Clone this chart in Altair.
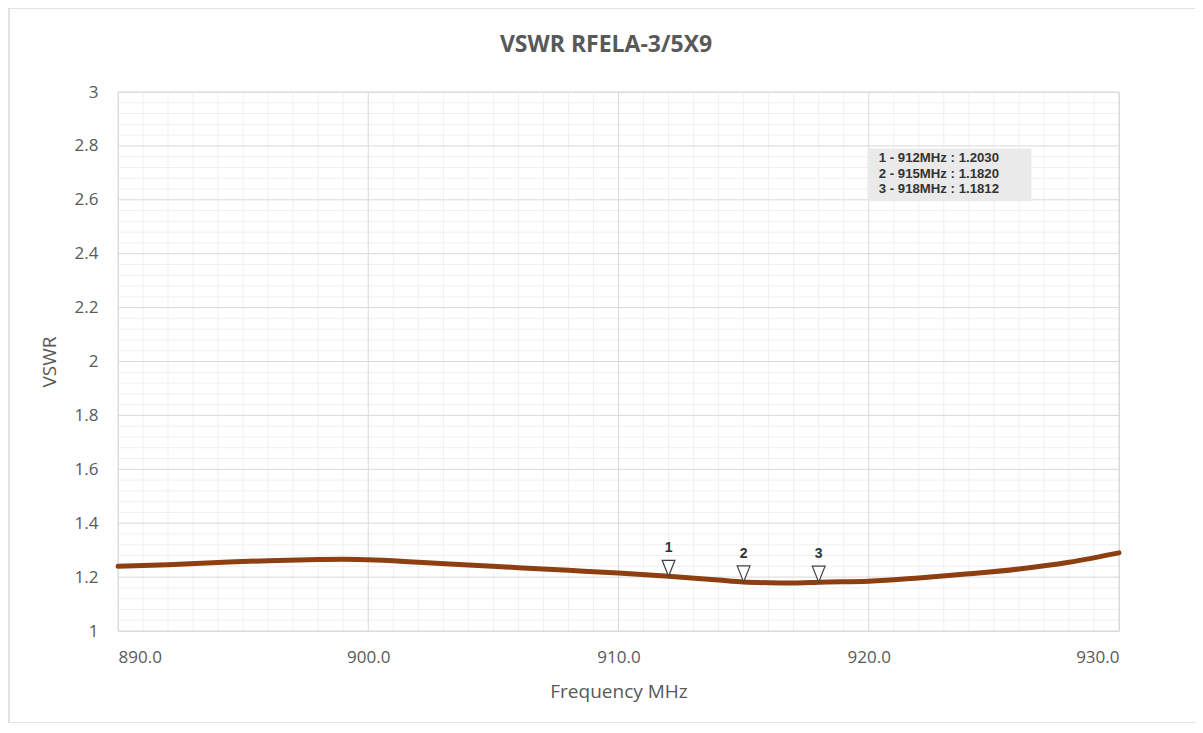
import altair as alt
import pandas as pd

# ---- data ----
freq = [890, 892, 894, 896, 898, 899, 900, 902, 904, 906, 908, 910,
        912, 914, 915, 916, 917, 918, 920, 922, 924, 926, 928, 930]
vswr = [1.240, 1.246, 1.254, 1.261, 1.265, 1.266, 1.264, 1.255, 1.245, 1.235, 1.225, 1.215,
        1.203, 1.189, 1.182, 1.179, 1.178, 1.1812, 1.185, 1.197, 1.212, 1.230, 1.255, 1.290]

marker_ids = ["1", "2", "3"]
marker_freq = [912, 915, 918]
marker_vswr = [1.2030, 1.1820, 1.1812]
marker_text = ["1 - 912MHz : 1.2030", "2 - 915MHz : 1.1820", "3 - 918MHz : 1.1812"]

title_text = "VSWR RFELA-3/5X9"

x_major = [890, 900, 910, 920, 930]
y_major = [1.0, 1.2, 1.4, 1.6, 1.8, 2.0, 2.2, 2.4, 2.6, 2.8, 3.0]
x_minor = [v for v in range(890, 931) if v % 10 != 0]
y_minor = [round(1 + i * 0.04, 2) for i in range(51) if i % 5 != 0]

FONT = "Open Sans"
GREY = "#595959"
W, H = 1001, 539

xs = alt.Scale(domain=[890, 930], nice=False)
ys = alt.Scale(domain=[1, 3], nice=False)

curve_df = pd.DataFrame({"f": freq, "v": vswr})
mk_df = pd.DataFrame({"id": marker_ids, "f": marker_freq, "v": marker_vswr})
txt_df = pd.DataFrame({"t": marker_text, "row": [0, 1, 2]})
one = pd.DataFrame({"a": [0]})

minor_x = alt.Chart(pd.DataFrame({"f": x_minor})).mark_rule(
    color="#F0F0F0", strokeWidth=1).encode(x=alt.X("f:Q", scale=xs))
minor_y = alt.Chart(pd.DataFrame({"v": y_minor})).mark_rule(
    color="#F0F0F0", strokeWidth=1).encode(y=alt.Y("v:Q", scale=ys))

major_x = alt.Chart(pd.DataFrame({"f": x_major})).mark_rule(
    color="#D9D9D9", strokeWidth=1).encode(x=alt.X("f:Q", scale=xs))
major_y = alt.Chart(pd.DataFrame({"v": y_major})).mark_rule(
    color="#D9D9D9", strokeWidth=1).encode(y=alt.Y("v:Q", scale=ys))

line = alt.Chart(curve_df).mark_line(
    color="#8E3F12", strokeWidth=5, interpolate="monotone", strokeCap="round"
).encode(
    x=alt.X("f:Q", scale=xs,
            axis=alt.Axis(values=x_major, format=".1f", title="Frequency MHz",
                          grid=False, ticks=False, domain=False,
                          labelFont=FONT, labelFontSize=17, labelColor=GREY,
                          labelPadding=18,
                          titleFont=FONT, titleFontSize=19, titleColor=GREY,
                          titleFontWeight="normal", titlePadding=17)),
    y=alt.Y("v:Q", scale=ys,
            axis=alt.Axis(values=y_major, format=".1~f", title="VSWR",
                          grid=False, ticks=False, domain=False,
                          labelFont=FONT, labelFontSize=17, labelColor=GREY,
                          labelPadding=20,
                          titleFont=FONT, titleFontSize=19, titleColor=GREY,
                          titleFontWeight="normal", titlePadding=15)),
)

tri = alt.Chart(mk_df).mark_point(
    shape="M-0.8,-1L0.8,-1L0,1Z", size=256, filled=True, fill="white",
    stroke="#404040", strokeWidth=1.2, yOffset=-8, opacity=1
).encode(x=alt.X("f:Q", scale=xs), y=alt.Y("v:Q", scale=ys))

ids = alt.Chart(mk_df).mark_text(
    font="Liberation Sans", fontSize=14, fontWeight="bold", color="#333333",
    yOffset=-28
).encode(x=alt.X("f:Q", scale=xs), y=alt.Y("v:Q", scale=ys), text="id:N")

# annotation box (data-space anchor of the label panel)
BOX_X0, BOX_X1, BOX_Y0, BOX_Y1 = 919.95, 926.5, 2.595, 2.79
box = alt.Chart(one).mark_rect(color="#EAEAEA").encode(
    x=alt.datum(BOX_X0, scale=xs), x2=alt.datum(BOX_X1),
    y=alt.datum(BOX_Y0, scale=ys), y2=alt.datum(BOX_Y1))

labels = alt.Chart(txt_df).transform_calculate(
    yy="2.755 - datum.row * 0.0575"
).mark_text(
    font="Liberation Sans", fontSize=13.2, fontWeight="bold", color="#333333",
    align="left", baseline="middle"
).encode(x=alt.datum(920.4, scale=xs), y=alt.Y("yy:Q", scale=ys), text="t:N")

# outer chart-area border (top, left, bottom; right edge runs off the page)
frame = alt.Chart(one).mark_rect(
    fillOpacity=0, stroke="#D9D9D9", strokeWidth=1.5, clip=False
).encode(x=alt.value(-109), x2=alt.value(1090), y=alt.value(-84), y2=alt.value(631))

title = alt.Chart(one).mark_text(
    font=FONT, fontSize=23, fontWeight="bold", color=GREY,
    align="center", baseline="middle", clip=False
).encode(x=alt.value(488), y=alt.value(-47), text=alt.value(title_text))

chart = alt.layer(
    minor_x, minor_y, major_x, major_y, frame, box, labels, line, tri, ids, title
).properties(
    width=W, height=H,
    autosize=alt.AutoSizeParams(type="none"),
    padding={"left": 110, "top": 84, "right": 76, "bottom": 92},
).configure_view(stroke="#D9D9D9", strokeWidth=1).configure(background="white")

chart.save("out.html", embed_options={"renderer": "svg", "actions": False})
